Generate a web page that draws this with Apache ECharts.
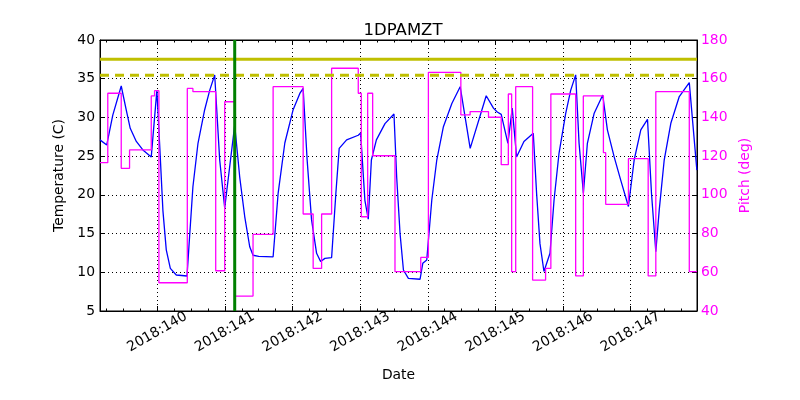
<!DOCTYPE html>
<html><head><meta charset="utf-8">
<script src="https://cdn.jsdelivr.net/npm/echarts@6/dist/echarts.min.js"></script>
<style>html,body{margin:0;padding:0;background:#fff}#c{width:800px;height:400px}</style>
</head><body><div id="c"></div><script>
const xMin = 139.153, xMax = 147.981;
const tickDays = [140, 141, 142, 143, 144, 145, 146, 147];
const tickLabels = ['2018:140', '2018:141', '2018:142', '2018:143', '2018:144', '2018:145', '2018:146', '2018:147'];
const minorDays = [139.25, 139.5, 139.75, 140.25, 140.5, 140.75, 141.25, 141.5, 141.75, 142.25, 142.5, 142.75,
  143.25, 143.5, 143.75, 144.25, 144.5, 144.75, 145.25, 145.5, 145.75, 146.25, 146.5, 146.75, 147.25, 147.5, 147.75];

const tempDays = [139.153, 139.253, 139.342, 139.467, 139.54, 139.6, 139.69, 139.787, 139.911, 139.994,
  140.034, 140.083, 140.133, 140.193, 140.281, 140.44, 140.468, 140.527, 140.602, 140.70, 140.775, 140.849,
  140.923, 140.997, 141.145, 141.219, 141.293, 141.367, 141.416, 141.50, 141.713, 141.787, 141.886, 142.009,
  142.108, 142.157, 142.216, 142.281, 142.356, 142.415, 142.479, 142.578, 142.641, 142.69, 142.8, 142.972,
  143.007, 143.07, 143.12, 143.166, 143.24, 143.367, 143.5, 143.54, 143.59, 143.64, 143.713, 143.886,
  143.926, 143.985, 144.059, 144.133, 144.231, 144.356, 144.479, 144.627, 144.864, 144.971, 145.027,
  145.086, 145.185, 145.249, 145.313, 145.422, 145.56, 145.609, 145.659, 145.718, 145.742, 145.807,
  145.867, 145.941, 146.039, 146.113, 146.187, 146.237, 146.301, 146.36, 146.459, 146.587, 146.656,
  146.756, 146.853, 146.967, 147.052, 147.15, 147.249, 147.308, 147.372, 147.422, 147.496, 147.594,
  147.719, 147.867, 147.979];
const tempC = [27.1, 26.44, 30.3, 34.06, 31.0, 28.6, 26.9, 25.8, 24.9, 33.5,
  26.7, 18.0, 12.9, 10.5, 9.65, 9.52, 13.3, 21.05, 26.66, 30.96, 33.5, 35.48,
  24.5, 18.3, 29.0, 22.3, 17.2, 13.3, 12.2, 12.05, 12.0, 20.2, 26.7, 31.0,
  33.1, 33.76, 24.5, 16.8, 12.45, 11.4, 11.8, 11.9, 20.2, 26.0, 27.1, 27.7,
  28.0, 19.3, 16.85, 24.5, 27.1, 29.2, 30.44, 22.3, 15.0, 10.3, 9.22, 9.1,
  11.16, 11.6, 19.3, 24.5, 28.8, 31.8, 33.97, 26.0, 32.8, 31.2, 30.7,
  30.4, 26.66, 31.2, 24.9, 26.9, 27.95, 20.2, 13.7, 10.1, 9.87, 12.45,
  19.3, 25.4, 30.5, 33.5, 35.5, 26.66, 20.2, 26.66, 30.5, 32.9, 28.4,
  24.9, 21.9, 18.5, 24.5, 28.4, 29.76, 20.2, 12.66, 18.0, 24.5, 29.24,
  32.7, 34.5, 23.2];

const pitchDays = [139.153, 139.268, 139.467, 139.59, 139.911, 139.96, 140.024, 140.444, 140.527, 140.864, 140.997, 141.145, 141.416, 141.713, 142.157, 142.305, 142.43, 142.578, 142.972, 143.017, 143.111, 143.185, 143.515, 143.896, 144.009, 144.489, 144.626, 144.898, 145.086, 145.191, 145.24, 145.3, 145.55, 145.742, 145.82, 146.187, 146.3, 146.597, 146.631, 146.967, 147.259, 147.372, 147.867, 147.981];
const pitchDeg = [116.6, 152.5, 113.7, 123.2, 151.1, 153.8, 54.6, 155.0, 153.3, 60.8, 148.1, 47.7, 79.6, 155.9, 90.1, 62.0, 90.1, 165.4, 152.5, 88.7, 152.5, 120.2, 60.3, 67.7, 163.3, 141.3, 143.0, 140.1, 115.6, 152.1, 60.3, 155.9, 56.0, 62.0, 152.1, 58.1, 151.1, 121.8, 95.1, 118.7, 58.1, 153.3, 60.3, 60.3];

const planningLimit = 37.5;
const cautionLimit = 35.45;
const eventDay = 141.145;

const FONT = 'DejaVu Sans';
const zip = (a, b) => a.map((v, i) => [v, b[i]]);
const gridRect = { left: 100, right: 103, top: 40, bottom: 89 };

const chart = echarts.init(document.getElementById('c'), null, { renderer: 'canvas' });
chart.setOption({
  animation: false,
  backgroundColor: '#fff',
  title: { text: '1DPAMZT', left: 398, top: 17, textAlign: 'center',
    textStyle: { fontFamily: FONT, fontSize: 16.5, fontWeight: 'normal', color: '#000' } },
  grid: [
    Object.assign({ show: true, borderColor: '#000', borderWidth: 1, backgroundColor: 'transparent' }, gridRect),
    Object.assign({ show: false }, gridRect)
  ],
  xAxis: [
    { type: 'value', gridIndex: 0, position: 'bottom', min: xMin, max: xMax,
      axisLine: { show: true, lineStyle: { color: '#000', width: 1 } },
      axisTick: { show: true, inside: true, length: 5, customValues: tickDays, lineStyle: { color: '#000' } },
      axisLabel: { customValues: tickDays, rotate: 30, align: 'center', verticalAlign: 'middle', margin: 21,
        fontFamily: FONT, fontSize: 13.9, color: '#000',
        formatter: v => tickLabels[tickDays.indexOf(Math.round(v))] },
      splitLine: { show: true, lineStyle: { color: '#000', width: 1, type: [1, 3] } },
      name: 'Date', nameLocation: 'middle', nameGap: 57,
      nameTextStyle: { fontFamily: FONT, fontSize: 13.9, color: '#000' } },
    { type: 'value', gridIndex: 0, position: 'top', min: xMin, max: xMax,
      axisLine: { show: true, lineStyle: { color: '#000', width: 1 } },
      axisTick: { show: true, inside: true, length: 5, customValues: tickDays, lineStyle: { color: '#000' } },
      axisLabel: { show: false }, splitLine: { show: false } },
    { type: 'value', gridIndex: 1, position: 'bottom', min: xMin, max: xMax,
      axisLine: { show: false },
      axisTick: { show: true, inside: true, length: 2.5, customValues: minorDays, lineStyle: { color: '#000' } },
      axisLabel: { show: false }, splitLine: { show: false } },
    { type: 'value', gridIndex: 1, position: 'top', min: xMin, max: xMax,
      axisLine: { show: false },
      axisTick: { show: true, inside: true, length: 2.5, customValues: minorDays, lineStyle: { color: '#000' } },
      axisLabel: { show: false }, splitLine: { show: false } }
  ],
  yAxis: [
    { type: 'value', gridIndex: 0, position: 'left', min: 5, max: 40, interval: 5,
      axisLine: { show: true, lineStyle: { color: '#000' } },
      axisTick: { show: true, inside: true, length: 5, lineStyle: { color: '#000' } },
      axisLabel: { fontFamily: FONT, fontSize: 13.9, color: '#000', margin: 5 },
      splitLine: { show: true, lineStyle: { color: '#000', width: 1, type: [1, 3] } },
      name: 'Temperature (C)', nameLocation: 'middle', nameGap: 24,
      nameTextStyle: { fontFamily: FONT, fontSize: 13.9, color: '#000' } },
    { type: 'value', gridIndex: 0, position: 'right', min: 40, max: 180, interval: 20,
      axisLine: { show: true, lineStyle: { color: '#000' } },
      axisTick: { show: true, inside: true, length: 5, lineStyle: { color: '#000' } },
      axisLabel: { fontFamily: FONT, fontSize: 13.9, color: '#ff00ff', margin: 4 },
      splitLine: { show: false },
      name: 'Pitch (deg)', nameLocation: 'middle', nameGap: 28,
      nameTextStyle: { fontFamily: FONT, fontSize: 13.9, color: '#ff00ff' } },
    { type: 'value', gridIndex: 1, min: 0, max: 1, show: false }
  ],
  series: [
    { name: 'temp', type: 'line', xAxisIndex: 0, yAxisIndex: 0, data: zip(tempDays, tempC),
      showSymbol: false, z: 2, lineStyle: { color: '#0000ff', width: 1.3 }, itemStyle: { color: '#0000ff' } },
    { name: 'pitch', type: 'line', xAxisIndex: 0, yAxisIndex: 1, data: zip(pitchDays, pitchDeg), step: 'end',
      showSymbol: false, z: 3, lineStyle: { color: '#ff00ff', width: 1.3 }, itemStyle: { color: '#ff00ff' } },
    { name: 'planning', type: 'line', xAxisIndex: 0, yAxisIndex: 0,
      data: [[xMin, planningLimit], [xMax, planningLimit]], showSymbol: false, z: 4,
      lineStyle: { color: '#bfbf00', width: 3 } },
    { name: 'caution', type: 'line', xAxisIndex: 0, yAxisIndex: 0,
      data: [[xMin, cautionLimit], [xMax, cautionLimit]], showSymbol: false, z: 4,
      lineStyle: { color: '#bfbf00', width: 3, type: [9, 6] } },
    { name: 'event', type: 'line', xAxisIndex: 0, yAxisIndex: 0,
      data: [[eventDay, 5], [eventDay, 40]], showSymbol: false, z: 5,
      lineStyle: { color: '#008000', width: 3 } }
  ]
});
</script></body></html>
